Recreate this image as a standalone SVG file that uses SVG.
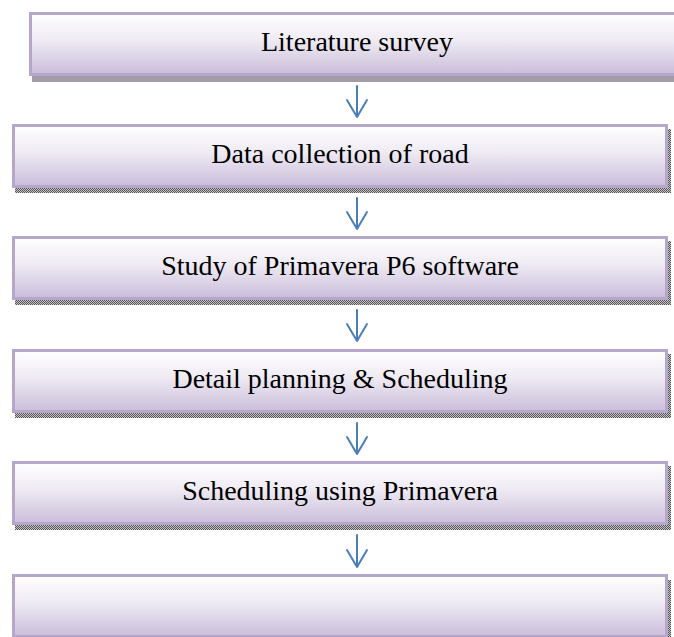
<svg xmlns="http://www.w3.org/2000/svg" width="674" height="637" viewBox="0 0 674 637">
  <defs>
    <linearGradient id="fillGrad" x1="0" y1="0" x2="0" y2="1">
      <stop offset="0" stop-color="#ffffff"/>
      <stop offset="0.45" stop-color="#eeeaf3"/>
      <stop offset="1" stop-color="#cabdda"/>
    </linearGradient>
    <pattern id="dither" width="2" height="2" patternUnits="userSpaceOnUse">
      <rect width="2" height="2" fill="#c4c4c4"/>
      <rect width="1" height="1" fill="#555555"/>
      <rect x="1" y="1" width="1" height="1" fill="#555555"/>
    </pattern>
  </defs>
  <style>
    .box { fill: url(#fillGrad); stroke: #b5a6cb; stroke-width: 3; }
    .shadow { fill: url(#dither); }
    .shadow1 { fill: #a29ba8; }
    .label { font-family: "Liberation Serif", "Times New Roman", serif; font-size: 28px; fill: #000000; text-anchor: middle; }
    .arrow { fill: none; stroke: #4a7ebb; stroke-width: 2; stroke-linecap: round; stroke-linejoin: round; }
  </style>
  <rect width="674" height="637" fill="#ffffff"/>

  <g id="node1">
    <rect class="shadow1" x="32" y="18" width="656" height="64"/>
    <rect class="box" x="30.5" y="13.5" width="653" height="61"/>
    <text class="label" x="357" y="51">Literature survey</text>
  </g>
  <g id="node2">
    <rect class="shadow" x="15" y="129" width="656" height="64"/>
    <rect class="box" x="13.5" y="125.5" width="653" height="61"/>
    <text class="label" x="340" y="163">Data collection of road</text>
  </g>
  <g id="node3">
    <rect class="shadow" x="15" y="241" width="656" height="64"/>
    <rect class="box" x="13.5" y="237.5" width="653" height="61"/>
    <text class="label" x="340" y="275">Study of Primavera P6 software</text>
  </g>
  <g id="node4">
    <rect class="shadow" x="15" y="354" width="656" height="64"/>
    <rect class="box" x="13.5" y="350.5" width="653" height="61"/>
    <text class="label" x="340" y="388">Detail planning &amp; Scheduling</text>
  </g>
  <g id="node5">
    <rect class="shadow" x="15" y="466" width="656" height="64"/>
    <rect class="box" x="13.5" y="462.5" width="653" height="61"/>
    <text class="label" x="340" y="500">Scheduling using Primavera</text>
  </g>
  <g id="node6">
    <rect class="shadow" x="15" y="580" width="656" height="64"/>
    <rect class="box" x="13.5" y="575.5" width="653" height="61"/>
  </g>

  <g id="connectors">
    <path class="arrow" d="M357 86 V117 M347 100 L357 117 L367 100"/>
    <path class="arrow" d="M357 198 V229 M347 212 L357 229 L367 212"/>
    <path class="arrow" d="M357 310 V341 M347 324 L357 341 L367 324"/>
    <path class="arrow" d="M357 423 V454 M347 437 L357 454 L367 437"/>
    <path class="arrow" d="M357 535 V567 M347 550 L357 567 L367 550"/>
  </g>
</svg>
